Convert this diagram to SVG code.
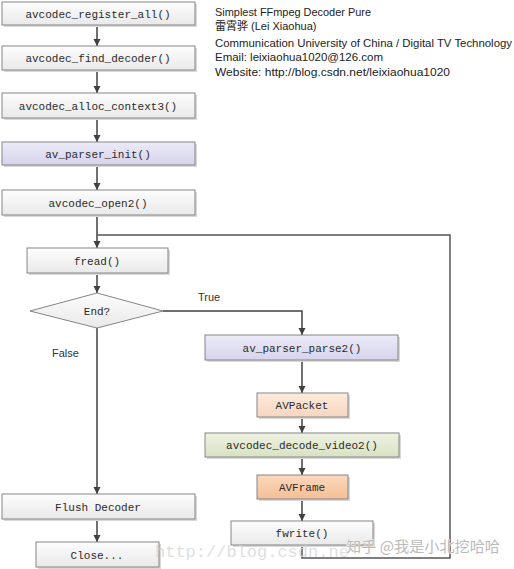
<svg xmlns="http://www.w3.org/2000/svg" width="514" height="569" viewBox="0 0 514 569">
<defs>
<linearGradient id="gPlain" x1="0" y1="0" x2="0" y2="1"><stop offset="0" stop-color="#fdfdfd"/><stop offset="1" stop-color="#e9e9e9"/></linearGradient>
<linearGradient id="gLav" x1="0" y1="0" x2="0" y2="1"><stop offset="0" stop-color="#ecebf8"/><stop offset="1" stop-color="#d6d3ec"/></linearGradient>
<linearGradient id="gPeach" x1="0" y1="0" x2="0" y2="1"><stop offset="0" stop-color="#fdebdd"/><stop offset="1" stop-color="#f7d6bf"/></linearGradient>
<linearGradient id="gGreen" x1="0" y1="0" x2="0" y2="1"><stop offset="0" stop-color="#eef2e2"/><stop offset="1" stop-color="#d9e2c3"/></linearGradient>
<linearGradient id="gOrange" x1="0" y1="0" x2="0" y2="1"><stop offset="0" stop-color="#fbd9bd"/><stop offset="1" stop-color="#f4be95"/></linearGradient>
<marker id="arr" viewBox="0 0 10 10" refX="10" refY="5" markerWidth="7" markerHeight="9" markerUnits="userSpaceOnUse" orient="auto">
<path d="M0,0 L10,5 L0,10 Z" fill="#404040"/>
</marker>
</defs>
<style>
.box{stroke:#858585;stroke-width:1}
.sh{fill:#d8d8d8}
.lbl{font-family:"Liberation Mono","DejaVu Sans Mono",monospace;font-size:11px;fill:#2a2a2a;text-anchor:middle}
.hdr{font-family:"Liberation Sans","Noto Sans CJK SC",sans-serif;font-size:11px;fill:#222}
.yn{font-family:"Liberation Sans",sans-serif;font-size:11px;fill:#333}
.ln{fill:none;stroke:#404040;stroke-width:1.5}
.lp{fill:none;stroke:#555;stroke-width:1.5}
</style>
<rect width="514" height="569" fill="#ffffff"/>

<g id="header">
<text class="hdr" x="215" y="16" textLength="156" lengthAdjust="spacingAndGlyphs">Simplest FFmpeg Decoder Pure</text>
<text class="hdr" x="215" y="30">雷霄骅 (Lei Xiaohua)</text>
<text class="hdr" x="215" y="47" textLength="297" lengthAdjust="spacingAndGlyphs">Communication University of China / Digital TV Technology</text>
<text class="hdr" x="215" y="61" textLength="168" lengthAdjust="spacingAndGlyphs">Email:  leixiaohua1020@126.com</text>
<text class="hdr" x="215" y="76" textLength="235" lengthAdjust="spacingAndGlyphs">Website:  http://blog.csdn.net/leixiaohua1020</text>
</g>

<g id="connectors">
<line class="ln" x1="97" y1="25" x2="97" y2="46" marker-end="url(#arr)"/>
<line class="ln" x1="97" y1="70" x2="97" y2="93" marker-end="url(#arr)"/>
<line class="ln" x1="97" y1="118" x2="97" y2="142" marker-end="url(#arr)"/>
<line class="ln" x1="97" y1="165" x2="97" y2="190" marker-end="url(#arr)"/>
<line class="ln" x1="97" y1="215" x2="97" y2="248" marker-end="url(#arr)"/>
<polyline class="lp" points="302,545 302,558 450,558 450,235 97,235"/>
<line class="ln" x1="97" y1="273" x2="97" y2="293" marker-end="url(#arr)"/>
<line class="ln" x1="97" y1="328" x2="97" y2="494" marker-end="url(#arr)"/>
<polyline class="ln" points="163,311 302,311 302,335" marker-end="url(#arr)"/>
<line class="ln" x1="302" y1="360" x2="302" y2="393" marker-end="url(#arr)"/>
<line class="ln" x1="302" y1="417" x2="302" y2="433" marker-end="url(#arr)"/>
<line class="ln" x1="302" y1="457" x2="302" y2="475" marker-end="url(#arr)"/>
<line class="ln" x1="302" y1="499" x2="302" y2="521" marker-end="url(#arr)"/>
<line class="ln" x1="97" y1="519" x2="97" y2="542" marker-end="url(#arr)"/>
<text class="yn" x="198" y="301">True</text>
<text class="yn" x="52" y="357">False</text>
</g>

<g id="n1"><rect class="sh" x="4" y="4" width="193" height="23"/><rect class="box" x="2" y="2" width="193" height="23" fill="url(#gPlain)"/><text class="lbl" x="98" y="17.5">avcodec_register_all()</text></g>
<g id="n2"><rect class="sh" x="4" y="48" width="193" height="24"/><rect class="box" x="2" y="46" width="193" height="24" fill="url(#gPlain)"/><text class="lbl" x="98" y="62">avcodec_find_decoder()</text></g>
<g id="n3"><rect class="sh" x="4" y="95" width="193" height="25"/><rect class="box" x="2" y="93" width="193" height="25" fill="url(#gPlain)"/><text class="lbl" x="98" y="109.5">avcodec_alloc_context3()</text></g>
<g id="n4"><rect class="sh" x="4" y="144" width="193" height="23"/><rect class="box" x="2" y="142" width="193" height="23" fill="url(#gLav)"/><text class="lbl" x="98" y="157.5">av_parser_init()</text></g>
<g id="n5"><rect class="sh" x="4" y="192" width="193" height="25"/><rect class="box" x="2" y="190" width="193" height="25" fill="url(#gPlain)"/><text class="lbl" x="98" y="206.5">avcodec_open2()</text></g>
<g id="n6"><rect class="sh" x="29" y="250" width="141" height="25"/><rect class="box" x="27" y="248" width="141" height="25" fill="url(#gPlain)"/><text class="lbl" x="97" y="264.5">fread()</text></g>
<g id="n7"><polygon class="box" points="97,293 163,311 97,328 30,311" fill="url(#gPlain)"/><text class="lbl" x="97" y="315">End?</text></g>
<g id="n8"><rect class="sh" x="207" y="337" width="193" height="25"/><rect class="box" x="205" y="335" width="193" height="25" fill="url(#gLav)"/><text class="lbl" x="302" y="351.5">av_parser_parse2()</text></g>
<g id="n9"><rect class="sh" x="259" y="395" width="91" height="24"/><rect class="box" x="257" y="393" width="91" height="24" fill="url(#gPeach)"/><text class="lbl" x="302" y="409">AVPacket</text></g>
<g id="n10"><rect class="sh" x="207" y="435" width="194" height="24"/><rect class="box" x="205" y="433" width="194" height="24" fill="url(#gGreen)"/><text class="lbl" x="302" y="449">avcodec_decode_video2()</text></g>
<g id="n11"><rect class="sh" x="259" y="477" width="91" height="24"/><rect class="box" x="257" y="475" width="91" height="24" fill="url(#gOrange)"/><text class="lbl" x="302" y="491">AVFrame</text></g>
<g id="n12"><rect class="sh" x="233" y="523" width="142" height="24"/><rect class="box" x="231" y="521" width="142" height="24" fill="url(#gPlain)"/><text class="lbl" x="302" y="537">fwrite()</text></g>
<g id="n13"><rect class="sh" x="4" y="496" width="193" height="25"/><rect class="box" x="2" y="494" width="193" height="25" fill="url(#gPlain)"/><text class="lbl" x="98" y="510.5">Flush Decoder</text></g>
<g id="n14"><rect class="sh" x="38" y="544" width="123" height="25"/><rect class="box" x="36" y="542" width="123" height="25" fill="url(#gPlain)"/><text class="lbl" x="97" y="558.5">Close...</text></g>

<g id="watermark">
<text x="155" y="557" font-family="Liberation Mono, monospace" font-size="17" fill="#d4d4d4" fill-opacity="0.75">http://blog.csdn.ne</text>
<text x="346" y="552" font-family="Noto Sans CJK SC, sans-serif" font-size="15" fill="#bbbbbb" stroke="#ffffff" stroke-width="0.6" paint-order="stroke" textLength="154" lengthAdjust="spacingAndGlyphs">知乎 @我是小北挖哈哈</text>
</g>
</svg>
